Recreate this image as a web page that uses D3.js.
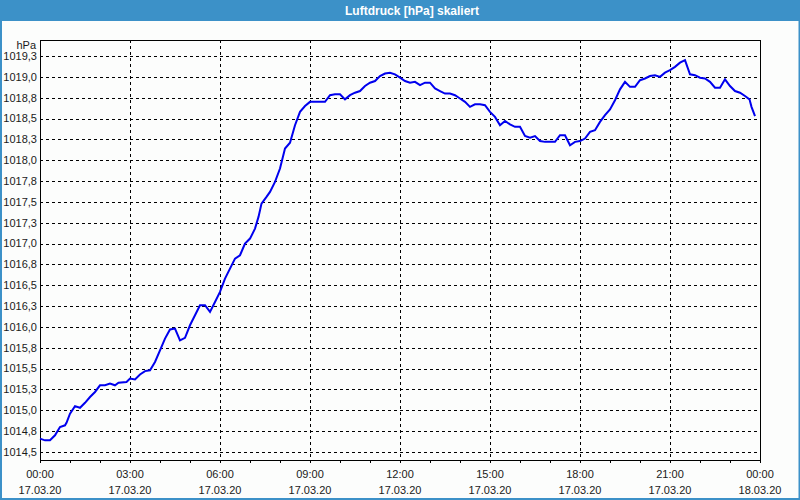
<!DOCTYPE html>
<html>
<head>
<meta charset="utf-8">
<script src="https://cdn.jsdelivr.net/npm/d3@7"></script>
<style>
  body { margin: 0; background: #fcfdfc; }
  svg { display: block; }
  text { font-family: "Liberation Sans", Arial, sans-serif; }
</style>
</head>
<body>
<div id="chart"></div>
<script>
// data: minutes since 17.03.20 00:00 and air pressure in hPa
var minutes = [0, 10, 20, 30, 40, 50, 53, 60, 70, 80, 90, 100, 110, 120, 130, 140, 150, 157, 173, 180,
  190, 200, 210, 220, 230, 240, 250, 260, 270, 280, 290, 300, 310, 320, 330, 340, 350, 360, 370, 390,
  400, 410, 420, 430, 437, 443, 453, 460, 470, 480, 490, 500, 510, 520, 530, 540, 570, 580, 590, 600,
  610, 620, 630, 640, 650, 660, 670, 680, 690, 700, 710, 720, 730, 740, 750, 760, 770, 780, 790, 800,
  810, 820, 830, 840, 850, 860, 870, 880, 890, 900, 910, 920, 930, 940, 950, 960, 970, 980, 990, 1000,
  1010, 1030, 1040, 1050, 1060, 1070, 1080, 1090, 1100, 1110, 1120, 1130, 1140, 1150, 1160, 1170, 1180, 1190, 1200, 1210,
  1220, 1230, 1240, 1250, 1260, 1270, 1280, 1290, 1300, 1310, 1320, 1330, 1340, 1350, 1360, 1370, 1380, 1390, 1400, 1410,
  1419, 1423, 1430];

var pressure = [1014.66, 1014.64, 1014.64, 1014.70, 1014.80, 1014.82, 1014.85, 1014.96, 1015.05, 1015.03,
  1015.09, 1015.16, 1015.22, 1015.30, 1015.30, 1015.32, 1015.30, 1015.33, 1015.34, 1015.38,
  1015.37, 1015.43, 1015.47, 1015.48, 1015.58, 1015.72, 1015.86, 1015.97, 1015.98, 1015.84,
  1015.87, 1016.02, 1016.14, 1016.26, 1016.26, 1016.18, 1016.30, 1016.42, 1016.58, 1016.82,
  1016.86, 1017.00, 1017.06, 1017.18, 1017.32, 1017.48, 1017.56, 1017.62, 1017.74, 1017.90,
  1018.14, 1018.21, 1018.42, 1018.58, 1018.65, 1018.70, 1018.70, 1018.78, 1018.79, 1018.79,
  1018.73, 1018.78, 1018.81, 1018.83, 1018.89, 1018.93, 1018.95, 1019.01, 1019.04, 1019.05,
  1019.03, 1018.99, 1018.95, 1018.93, 1018.94, 1018.90, 1018.93, 1018.93, 1018.86, 1018.83,
  1018.80, 1018.80, 1018.78, 1018.74, 1018.70, 1018.64, 1018.67, 1018.67, 1018.66, 1018.58,
  1018.52, 1018.42, 1018.47, 1018.43, 1018.40, 1018.40, 1018.29, 1018.27, 1018.29, 1018.23,
  1018.22, 1018.22, 1018.30, 1018.30, 1018.18, 1018.22, 1018.23, 1018.26, 1018.34, 1018.36,
  1018.46, 1018.54, 1018.61, 1018.72, 1018.85, 1018.94, 1018.88, 1018.88, 1018.96, 1018.98,
  1019.01, 1019.02, 1019.00, 1019.05, 1019.08, 1019.12, 1019.17, 1019.20, 1019.03, 1019.02,
  1018.99, 1018.98, 1018.94, 1018.87, 1018.87, 1018.97, 1018.89, 1018.83, 1018.81, 1018.77,
  1018.73, 1018.64, 1018.53];

// y ticks every 0.25 hPa, labels as shown (one decimal, comma)
var yTicks = [1014.5, 1014.75, 1015, 1015.25, 1015.5, 1015.75, 1016, 1016.25, 1016.5, 1016.75,
  1017, 1017.25, 1017.5, 1017.75, 1018, 1018.25, 1018.5, 1018.75, 1019, 1019.25];
var yLabels = ["1014,5", "1014,8", "1015,0", "1015,3", "1015,5", "1015,8", "1016,0", "1016,3", "1016,5", "1016,8",
  "1017,0", "1017,3", "1017,5", "1017,8", "1018,0", "1018,3", "1018,5", "1018,8", "1019,0", "1019,3"];

// x labels every 3 hours
var xHours = [0, 3, 6, 9, 12, 15, 18, 21, 24];
var xTimeLabels = ["00:00", "03:00", "06:00", "09:00", "12:00", "15:00", "18:00", "21:00", "00:00"];
var xDateLabels = ["17.03.20", "17.03.20", "17.03.20", "17.03.20", "17.03.20", "17.03.20", "17.03.20", "17.03.20", "18.03.20"];

var title = "Luftdruck [hPa] skaliert";
var unit = "hPa";

// set parameters/spacing
var svgWidth = 800;
var svgHeight = 500;

var margin = {
  top: 40,
  right: 40,
  bottom: 40,
  left: 40
};

var width = svgWidth - margin.left - margin.right;
var height = svgHeight - margin.top - margin.bottom;

var svg = d3.select("#chart")
  .append("svg")
  .attr("width", svgWidth)
  .attr("height", svgHeight);

// window background and frame
svg.append("rect")
  .attr("width", svgWidth)
  .attr("height", svgHeight)
  .attr("fill", "#fcfdfc");

svg.append("rect")
  .attr("x", 1)
  .attr("y", 0)
  .attr("width", svgWidth - 1.5)
  .attr("height", svgHeight - 1)
  .attr("fill", "none")
  .attr("stroke", "#3c91c8")
  .attr("stroke-width", 2);

// title bar
svg.append("rect")
  .attr("width", svgWidth)
  .attr("height", 21)
  .attr("fill", "#3c91c8");

svg.append("text")
  .attr("x", 412)
  .attr("y", 15)
  .attr("text-anchor", "middle")
  .attr("fill", "#ffffff")
  .attr("font-weight", "bold")
  .attr("font-size", "12px")
  .text(title);

var chart = svg.append("g")
  .attr("transform", `translate(${margin.left}, ${margin.top})`);

// scales
var t0 = new Date(2020, 2, 17, 0, 0);
var toDate = function(m) { return new Date(t0.getTime() + m * 60000); };

var xScale = d3.scaleTime()
  .domain([t0, toDate(24 * 60)])
  .range([0, width]);

var yScale = d3.scaleLinear()
  .domain([1014.404, 1019.442])
  .range([height, 0]);

// horizontal gridlines
chart.append("g")
  .selectAll("line")
  .data(yTicks)
  .enter()
  .append("line")
  .attr("x1", 0)
  .attr("x2", width)
  .attr("y1", d => Math.round(yScale(d)) + 0.5)
  .attr("y2", d => Math.round(yScale(d)) + 0.5)
  .attr("stroke", "#000")
  .attr("stroke-dasharray", "3,3");

// vertical gridlines
chart.append("g")
  .selectAll("line")
  .data(xHours.slice(1, -1))
  .enter()
  .append("line")
  .attr("x1", d => Math.round(xScale(toDate(d * 60))) + 0.5)
  .attr("x2", d => Math.round(xScale(toDate(d * 60))) + 0.5)
  .attr("y1", 0)
  .attr("y2", height)
  .attr("stroke", "#000")
  .attr("stroke-dasharray", "3,3");

// y labels
chart.append("g")
  .selectAll("text")
  .data(yTicks)
  .enter()
  .append("text")
  .attr("x", -3)
  .attr("y", d => yScale(d))
  .attr("dy", "0.35em")
  .attr("text-anchor", "end")
  .attr("font-size", "11px")
  .attr("fill", "#1a1a1a")
  .text((d, i) => yLabels[i]);

chart.append("text")
  .attr("x", -4)
  .attr("y", 9)
  .attr("text-anchor", "end")
  .attr("font-size", "11px")
  .attr("fill", "#1a1a1a")
  .text(unit);

// bottom axis with hourly ticks
var bottomAxis = d3.axisBottom(xScale)
  .ticks(d3.timeHour.every(1))
  .tickSize(3)
  .tickFormat("");

var xAxis = chart.append("g")
  .attr("transform", `translate(0, ${height})`)
  .call(bottomAxis);
xAxis.select(".domain").remove();

// x labels (two lines)
var xLab = chart.append("g")
  .selectAll("text")
  .data(xHours)
  .enter()
  .append("text")
  .attr("x", d => xScale(toDate(d * 60)))
  .attr("y", height + 18)
  .attr("text-anchor", "middle")
  .attr("font-size", "11px")
  .attr("fill", "#1a1a1a");

xLab.append("tspan")
  .attr("x", d => xScale(toDate(d * 60)))
  .text((d, i) => xTimeLabels[i]);

xLab.append("tspan")
  .attr("x", d => xScale(toDate(d * 60)))
  .attr("dy", 16)
  .text((d, i) => xDateLabels[i]);

// plot border
chart.append("rect")
  .attr("x", 0.5)
  .attr("y", 0.5)
  .attr("width", width)
  .attr("height", height)
  .attr("fill", "none")
  .attr("stroke", "#000");

// pressure line
var line = d3.line()
  .x((d, i) => xScale(toDate(minutes[i])))
  .y(d => yScale(d));

chart.append("path")
  .datum(pressure)
  .attr("d", line)
  .attr("fill", "none")
  .attr("stroke", "#0000ee")
  .attr("stroke-width", 2);
</script>
</body>
</html>
